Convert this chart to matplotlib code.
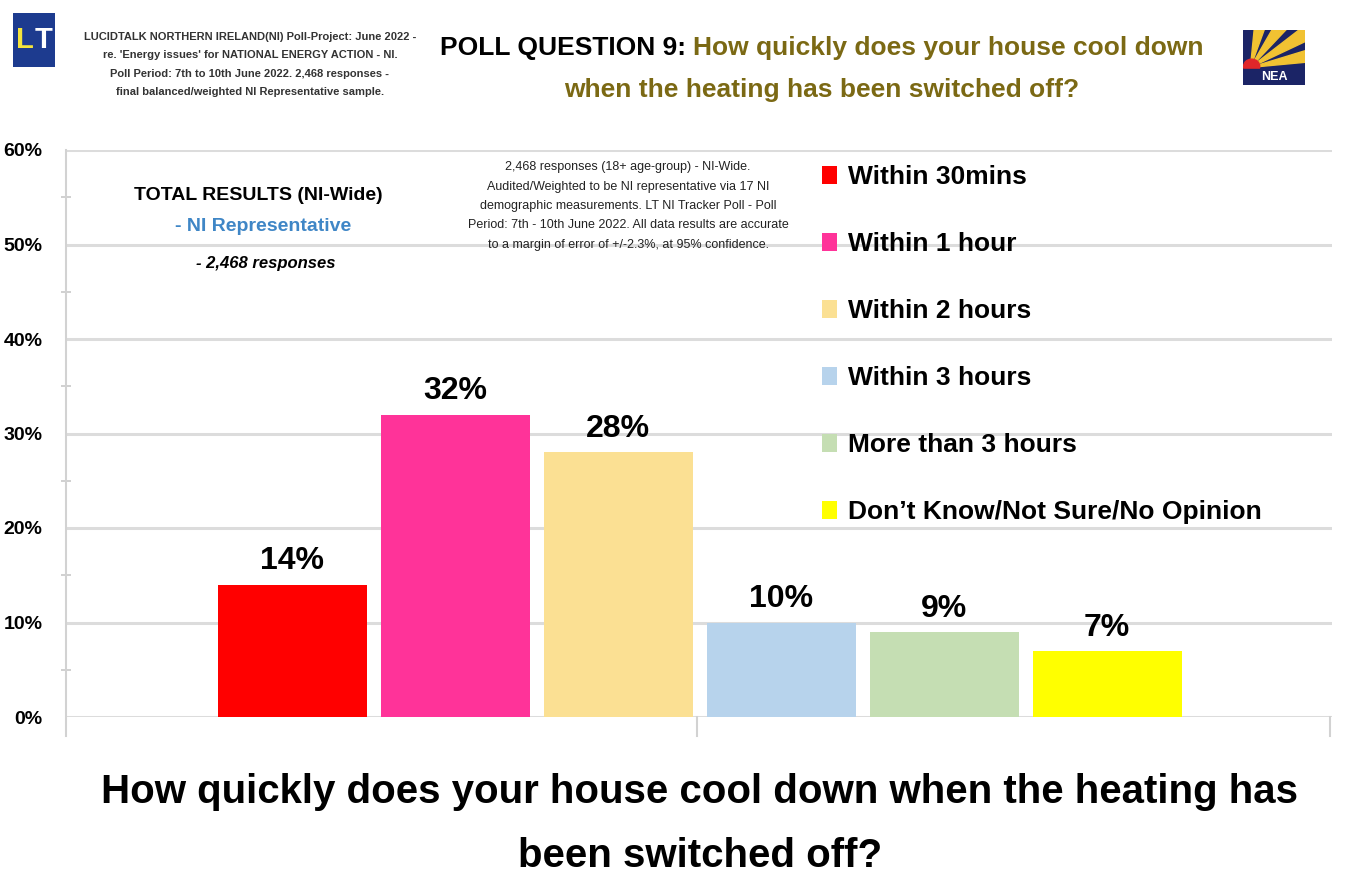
import matplotlib.pyplot as plt
from matplotlib.patches import Rectangle, Wedge, Circle

plt.rcParams["font.family"] = ["Liberation Sans", "DejaVu Sans"]

# data
categories = [
    "Within 30mins",
    "Within 1 hour",
    "Within 2 hours",
    "Within 3 hours",
    "More than 3 hours",
    "Don\u2019t Know/Not Sure/No Opinion",
]
values = [14, 32, 28, 10, 9, 7]
bar_colors = ["#ff0000", "#ff3399", "#fbe093", "#b7d3ec", "#c5deb3", "#ffff00"]
y_ticks = [0, 10, 20, 30, 40, 50, 60]

header_note = (
    "LUCIDTALK NORTHERN IRELAND(NI) Poll-Project: June 2022 -\n"
    "re. 'Energy issues' for NATIONAL ENERGY ACTION - NI.\n"
    "Poll Period: 7th to 10th June 2022. 2,468 responses -\n"
    "final balanced/weighted NI Representative sample."
)
method_note = (
    "2,468 responses (18+ age-group) - NI-Wide.\n"
    "Audited/Weighted to be NI representative via 17 NI\n"
    "demographic measurements. LT NI Tracker Poll - Poll\n"
    "Period: 7th - 10th June 2022. All data results are accurate\n"
    "to a margin of error of +/-2.3%, at 95% confidence."
)
question = "How quickly does your house cool down when the heating has\nbeen switched off?"

W, H = 1351, 890


def fx(px):
    return px / W


def fy(py):
    return 1 - py / H


fig = plt.figure(figsize=(W / 100, H / 100), dpi=100)
fig.patch.set_facecolor("white")

ax = fig.add_axes([fx(66), fy(717), fx(1332) - fx(66), fy(150) - fy(717)])
x_left, x_right, x_mid = -1.39, 6.38, 2.485

bars = []
for i, (lab, v, c) in enumerate(zip(categories, values, bar_colors)):
    b = ax.bar(i, v, width=0.915, color=c, label=lab, zorder=3)
    ax.bar_label(b, labels=[f"{v}%"], padding=6, fontsize=23, fontweight="bold")
    bars.append(b)

ax.set_xlim(x_left, x_right)
ax.set_ylim(0, 60)
ax.set_xticks([])
ax.set_yticks(y_ticks)
ax.set_yticklabels([f"{t}%" for t in y_ticks], fontweight="bold")
ax.set_yticks(range(5, 60, 10), minor=True)
ax.tick_params(axis="y", which="major", length=0, pad=17, labelsize=14)
ax.tick_params(axis="y", which="minor", length=7, width=1.2,
               direction="inout", color="#c8c8c8")
ax.grid(axis="y", color="#dcdcdc", lw=2.2, zorder=0)
ax.set_axisbelow(True)
for s in ["top", "right", "bottom", "left"]:
    ax.spines[s].set_visible(False)

# axis line and category separators, running a bit below the baseline
ax.plot([x_left, x_left], [-2, 60], color="#d2d2d2", lw=1.5, clip_on=False, zorder=1)
for xs in [x_mid, x_right - 0.01]:
    ax.plot([xs, xs], [-2, 0], color="#d2d2d2", lw=1.5, clip_on=False, zorder=1)

ax.legend(
    handles=bars,
    loc="upper left",
    bbox_to_anchor=(fx(822), fy(165)),
    bbox_transform=fig.transFigure,
    frameon=False,
    prop={"weight": "bold", "size": 19},
    handlelength=0.55,
    handleheight=0.65,
    handletextpad=0.45,
    labelspacing=1.63,
    borderpad=0,
    borderaxespad=0,
)

# panel texts
fig.text(fx(258), fy(195), "TOTAL RESULTS (NI-Wide)", ha="center", va="center",
         fontsize=14, fontweight="bold")
fig.text(fx(263), fy(227), "- NI Representative", ha="center", va="center",
         fontsize=14, fontweight="bold", color="#3f86c6")
fig.text(fx(266), fy(263), "- 2,468 responses", ha="center", va="center",
         fontsize=12, fontweight="bold", style="italic")
fig.text(fx(628), fy(206), method_note, ha="center", va="center",
         fontsize=9, linespacing=1.82, color="#222222")

# header
fig.text(fx(250), fy(64.5), header_note, ha="center", va="center",
         fontsize=8, fontweight="bold", linespacing=2.08, color="#333333")
fig.text(fx(686), fy(48), "POLL QUESTION 9:", ha="right", va="center",
         fontsize=19, fontweight="bold")
fig.text(fx(693), fy(48), "How quickly does your house cool down", ha="left",
         va="center", fontsize=19, fontweight="bold", color="#7b6914")
fig.text(fx(822), fy(90), "when the heating has been switched off?", ha="center",
         va="center", fontsize=19, fontweight="bold", color="#7b6914")

# bottom question
fig.text(fx(700), fy(824), question, ha="center", va="center",
         fontsize=29, fontweight="bold", linespacing=1.84)

# LT logo
lt = fig.add_axes([fx(13), fy(67), fx(55) - fx(13), fy(13) - fy(67)])
lt.add_patch(Rectangle((0, 0), 1, 1, color="#1d3b8f"))
lt.text(0.49, 0.5, "L", color="#f4e43c", fontsize=21, fontweight="bold",
        ha="right", va="center")
lt.text(0.51, 0.5, "T", color="white", fontsize=21, fontweight="bold",
        ha="left", va="center")
lt.set_xlim(0, 1)
lt.set_ylim(0, 1)
lt.axis("off")

# NEA logo
nea = fig.add_axes([fx(1243), fy(85), fx(1305) - fx(1243), fy(30) - fy(85)])
nea.set_xlim(0, 1)
nea.set_ylim(0, 1)
nea.add_patch(Rectangle((0, 0), 1, 1, color="#1b2466"))
for a0 in [6, 28, 50, 72]:
    nea.add_patch(Wedge((0.12, 0.32), 1.3, a0, a0 + 13, color="#f1c232"))
nea.add_patch(Circle((0.14, 0.34), 0.13, color="#e0262a"))
nea.add_patch(Rectangle((0, 0), 1, 0.3, color="#1b2466"))
nea.text(0.5, 0.14, "NEA", color="white", fontsize=9, fontweight="bold",
         ha="center", va="center")
nea.axis("off")

fig.savefig("out.png", dpi=100)
